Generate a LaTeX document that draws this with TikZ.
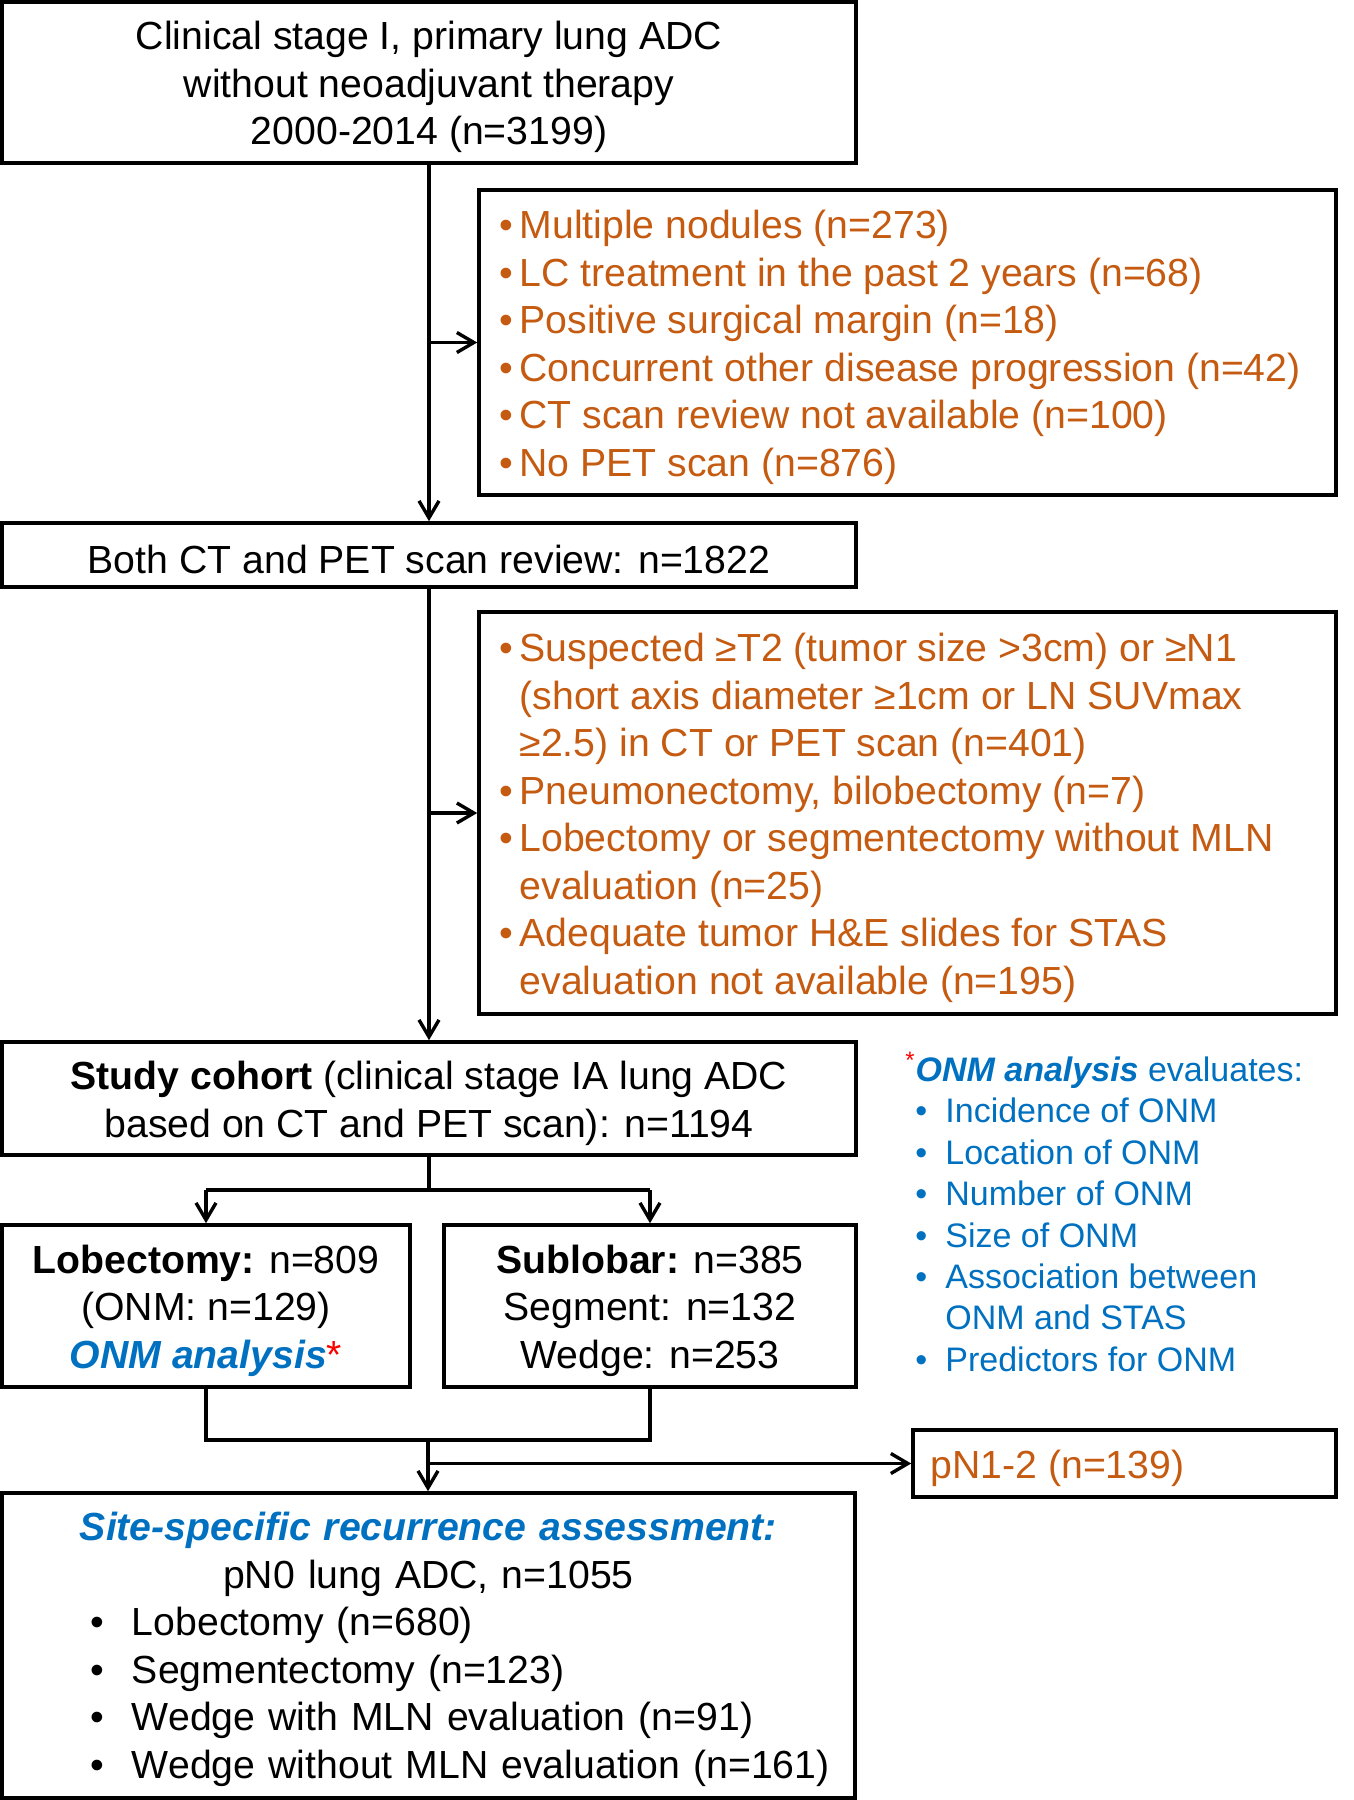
\documentclass[tikz,border=0pt]{standalone}
\usepackage{fontspec}
\setmainfont{Liberation Sans}
\usetikzlibrary{arrows.meta}
\definecolor{orng}{HTML}{C55A11}
\definecolor{blu}{HTML}{0070C0}
\newcommand{\mainfs}{\fontsize{19.6pt}{23.75pt}\selectfont}
\newcommand{\onmfs}{\fontsize{17pt}{20.7pt}\selectfont}
\newcommand{\ob}{\makebox[10pt][l]{•}}
\newcommand{\oi}{\hspace*{10pt}}
\newcommand{\fb}{\hspace*{44pt}\makebox[21pt][l]{•}}
\newcommand{\bb}{\hspace*{5pt}\makebox[15pt][l]{•}}
\begin{document}
\begin{tikzpicture}[x=0.5pt,y=-0.5pt,
  frame/.style={draw, line width=1.8pt, inner sep=0pt},
  txt/.style={inner sep=0pt, align=center, font=\mainfs, yshift=-2.3pt},
  ltxt/.style={txt, align=left, anchor=west, text=orng, xshift=11pt},
  conn/.style={line width=1.7pt},
  arr/.style={conn, -{Straight Barb[length=8.5pt,width=10pt]}}]
\useasboundingbox (0,0) rectangle (1354,1800);
% boxes
\node[frame, minimum width=427pt, minimum height=80.5pt] (b1) at (429,82.5) {};
\node[frame, minimum width=428.5pt, minimum height=152.5pt] (e1) at (907.5,342.5) {};
\node[frame, minimum width=427pt, minimum height=32pt] (b2) at (429,555) {};
\node[frame, minimum width=428.5pt, minimum height=201pt] (e2) at (907.5,813) {};
\node[frame, minimum width=427pt, minimum height=56.5pt] (sc) at (429,1098.5) {};
\node[frame, minimum width=204pt, minimum height=81pt] (lob) at (206,1306) {};
\node[frame, minimum width=206pt, minimum height=81pt] (sub) at (650,1306) {};
\node[frame, minimum width=211.5pt, minimum height=33.5pt] (pn) at (1124.5,1463.5) {};
\node[frame, minimum width=426.5pt, minimum height=152.5pt] (fin) at (428.5,1645.5) {};
% texts
\node[txt] (b1t) at (b1) {Clinical stage I, primary lung ADC\\without neoadjuvant therapy\\2000-2014 (n=3199)};
\node[ltxt] (e1t) at (e1.west)
  {\ob Multiple nodules (n=273)\\
   \ob LC treatment in the past 2 years (n=68)\\
   \ob Positive surgical margin (n=18)\\
   \ob Concurrent other disease progression (n=42)\\
   \ob CT scan review not available (n=100)\\
   \ob No PET scan (n=876)};
\node[txt] (b2t) at (b2) {Both CT and PET scan review: n=1822};
\node[ltxt] (e2t) at (e2.west)
  {\ob Suspected ≥T2 (tumor size >3cm) or ≥N1\\
   \oi (short axis diameter ≥1cm or LN SUVmax\\
   \oi ≥2.5) in CT or PET scan (n=401)\\
   \ob Pneumonectomy, bilobectomy (n=7)\\
   \ob Lobectomy or segmentectomy without MLN\\
   \oi evaluation (n=25)\\
   \ob Adequate tumor H\&E slides for STAS\\
   \oi evaluation not available (n=195)};
\node[txt] (sct) at (sc) {\textbf{Study cohort} (clinical stage IA lung ADC\\based on CT and PET scan): n=1194};
\node[txt] (lobt) at (lob) {\textbf{Lobectomy:} n=809\\(ONM: n=129)\\{\color{blu}\bfseries\itshape ONM analysis}\textcolor{red}{*}};
\node[txt] (subt) at (sub) {\textbf{Sublobar:} n=385\\Segment: n=132\\Wedge: n=253};
\node[anchor=west, align=left, font=\onmfs, text=blu, inner sep=0pt] (onm) at (905,1212)
  {\textcolor{red}{\textsuperscript{*}}\textbf{\textit{ONM analysis}} evaluates:\\
   \bb Incidence of ONM\\
   \bb Location of ONM\\
   \bb Number of ONM\\
   \bb Size of ONM\\
   \bb Association between\\
   \hspace*{20pt}ONM and STAS\\
   \bb Predictors for ONM};
\node[ltxt, xshift=-1.5pt] (pnt) at (pn.west) {pN1-2 (n=139)};
\node[txt, align=left, text width=426.5pt, yshift=0.5pt] (fint) at (fin)
  {\makebox[426.5pt][c]{\color{blu}\bfseries\itshape Site-specific recurrence assessment:}\\
   \makebox[426.5pt][c]{pN0 lung ADC, n=1055}\\
   \fb Lobectomy (n=680)\\
   \fb Segmentectomy (n=123)\\
   \fb Wedge with MLN evaluation (n=91)\\
   \fb Wedge without MLN evaluation (n=161)};
% connectors
\coordinate (j1) at (b1.south |- e1.west);
\coordinate (j2) at (b2.south |- e2.west);
\draw[arr] (b1.south) -- (b2.north);
\draw[arr] (j1) -- (e1.west);
\draw[arr] (b2.south) -- (sc.north);
\draw[arr] (j2) -- (e2.west);
\coordinate (s1) at (429,1190);
\draw[conn] (sc.south) -- (s1);
\draw[conn] (lob.north |- s1) -- (sub.north |- s1);
\draw[arr] (lob.north |- s1) -- (lob.north);
\draw[arr] (sub.north |- s1) -- (sub.north);
\coordinate (m1) at (428,1440);
\draw[conn] (lob.south) -- (lob.south |- m1) -- (sub.south |- m1) -- (sub.south);
\draw[arr] (m1) -- (fin.north -| m1);
\coordinate (j3) at (m1 |- pn.west);
\draw[arr] (j3) -- (pn.west);
\end{tikzpicture}
\end{document}
